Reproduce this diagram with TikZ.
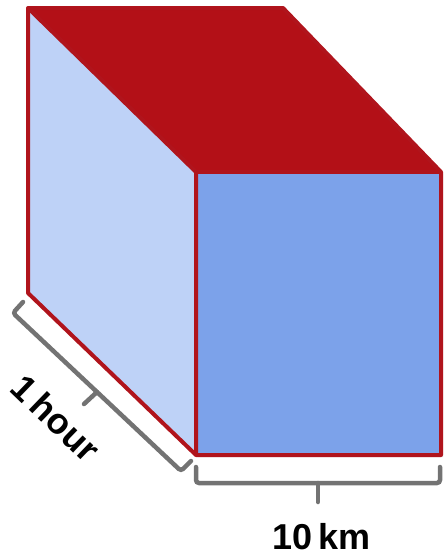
\documentclass[tikz,border=0pt]{standalone}
\usepackage{fontspec}
\setmainfont{Liberation Sans}
\usetikzlibrary{shadows}
\definecolor{cubered}{HTML}{B31017}
\definecolor{edgered}{HTML}{B0141C}
\definecolor{sideblue}{HTML}{BED2F7}
\definecolor{frontblue}{HTML}{7CA2EA}
\definecolor{bracegray}{HTML}{737373}
\begin{document}
\begin{tikzpicture}[
    x=1pt,y=-1pt,
    edge/.style={draw=edgered,line width=4pt,line join=round},
    brace/.style={draw=bracegray,line width=4.5pt,rounded corners=3pt,line cap=round},
    every node/.style={font=\fontsize{36}{42}\bfseries\selectfont}]
    \useasboundingbox (0,0) rectangle (446,557);
    % corners of the block
    \coordinate (tbl) at (28,8);
    \coordinate (tbr) at (283,8);
    \coordinate (tfl) at (196,172);
    \coordinate (tfr) at (441,172);
    \coordinate (bbl) at (28,293);
    \coordinate (bfl) at (196,455);
    \coordinate (bfr) at (441,455);
    % soft shadow of the silhouette
    \fill[white,drop shadow={opacity=.25,shadow xshift=2pt,shadow yshift=-2pt}]
        (tbl) -- (tbr) -- (tfr) -- (bfr) -- (bfl) -- (bbl) -- cycle;
    \fill[cubered] (tbl) -- (tbr) -- (tfr) -- (tfl) -- cycle;
    \fill[sideblue] (tbl) -- (tfl) -- (bfl) -- (bbl) -- cycle;
    \fill[frontblue] (tfl) -- (tfr) -- (bfr) -- (bfl) -- cycle;
    \draw[edge] (tbl) -- (tbr) -- (tfr) -- (bfr) -- (bfl) -- (bbl) -- cycle;
    \draw[edge] (tbl) -- (tfl) -- (bfl);
    \draw[edge] (tfl) -- (tfr);
    % brackets
    \draw[brace] (23,302) -- (13,313) -- (181,471) -- (191,461);
    \draw[brace,rounded corners=0pt] (97,392) -- (84,404);
    \draw[brace] (196,467) -- (196,483) -- (440,483) -- (440,467);
    \draw[brace,rounded corners=0pt] (318,483) -- (318,502);
    \node[rotate=-44] (hour) at (56,418) {1\,hour};
    \node (dist) at (322,537) {10\,km};
\end{tikzpicture}
\end{document}
